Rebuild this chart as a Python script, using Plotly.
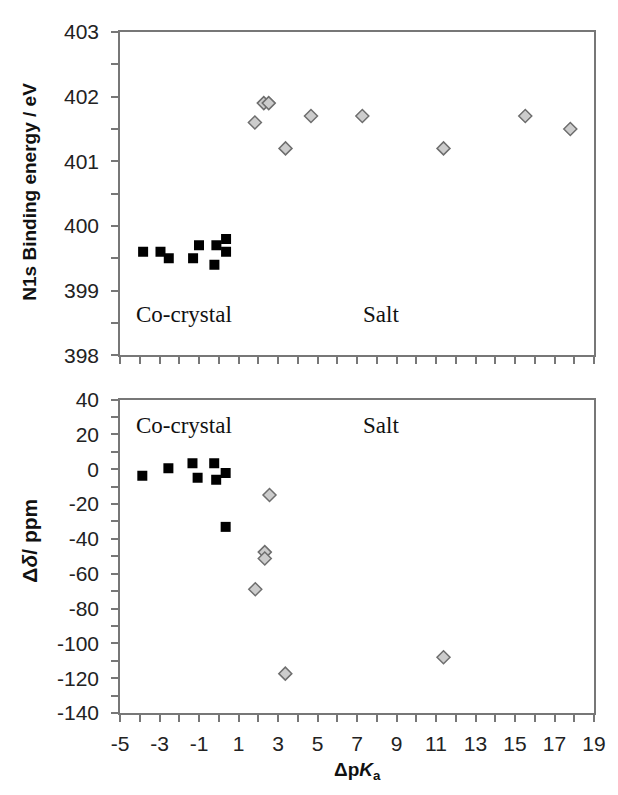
import plotly.graph_objects as go

# N1s binding energy (top panel)
cc_dpka_xps = [-3.83, -2.95, -2.53, -1.3, -1.0, -0.22, -0.12, 0.37, 0.37]
cc_be = [399.6, 399.6, 399.5, 399.5, 399.7, 399.4, 399.7, 399.8, 399.6]
salt_dpka_xps = [1.83, 2.28, 2.53, 3.38, 4.67, 7.27, 11.38, 15.52, 17.8]
salt_be = [401.6, 401.9, 401.9, 401.2, 401.7, 401.7, 401.2, 401.7, 401.5]

# 15N chemical shift change (bottom panel)
cc_dpka_nmr = [-3.87, -2.55, -1.33, -1.07, -0.23, -0.13, 0.35, 0.35]
cc_shift = [-3.7, 0.6, 3.4, -4.9, 3.4, -6.0, -2.2, -33.1]
salt_dpka_nmr = [2.57, 2.33, 2.33, 1.85, 3.37, 11.38]
salt_shift = [-14.8, -47.6, -51.3, -68.9, -117.4, -108.0]

# tick labels (plain hyphen as in the original)
x_ticks = [-5, -3, -1, 1, 3, 5, 7, 9, 11, 13, 15, 17, 19]
x_ticktext = ['-5', '-3', '-1', '1', '3', '5', '7', '9', '11', '13', '15', '17', '19']
be_ticks = [398, 399, 400, 401, 402, 403]
shift_ticks = [-140, -120, -100, -80, -60, -40, -20, 0, 20, 40]
shift_ticktext = ['-140', '-120', '-100', '-80', '-60', '-40', '-20', '0', '20', '40']

axis_col = '#777777'
tick_font = dict(family='Liberation Sans, Arial', size=21, color='#222222')
label_font = dict(family='Liberation Serif, Times New Roman', size=23, color='#111111')

square = dict(symbol='square', size=10, color='black', line=dict(width=0))
diamond = dict(symbol='diamond', size=10, color='#cccccc', line=dict(color='#6e6e6e', width=1.5))

fig = go.Figure()

fig.add_trace(go.Scatter(x=cc_dpka_xps, y=cc_be, mode='markers', marker=square,
                         xaxis='x', yaxis='y'))
fig.add_trace(go.Scatter(x=salt_dpka_xps, y=salt_be, mode='markers', marker=diamond,
                         xaxis='x', yaxis='y'))
fig.add_trace(go.Scatter(x=cc_dpka_nmr, y=cc_shift, mode='markers', marker=square,
                         xaxis='x2', yaxis='y2'))
fig.add_trace(go.Scatter(x=salt_dpka_nmr, y=salt_shift, mode='markers', marker=diamond,
                         xaxis='x2', yaxis='y2'))

common = dict(showgrid=False, zeroline=False, showline=True, linecolor=axis_col, linewidth=1.5,
              mirror=True, ticks='outside', ticklen=7, tickwidth=1.5, tickcolor=axis_col,
              tickfont=tick_font, ticklabeloverflow='allow')


def minor(step):
    return dict(dtick=step, ticks='outside', ticklen=7, tickwidth=1.5,
                tickcolor=axis_col, showgrid=False)


xaxis_cfg = dict(common, range=[-5, 19], tickmode='array', tickvals=x_ticks,
                 ticktext=x_ticktext, minor=dict(minor(1), tick0=-5))

# page body has an 8px margin, so the figure is a bit smaller than the window
fig.update_layout(
    width=610, height=787,
    margin=dict(l=112, r=16, t=14, b=82),
    paper_bgcolor='white', plot_bgcolor='white',
    showlegend=False,
    xaxis=dict(xaxis_cfg, anchor='y', showticklabels=False),
    xaxis2=dict(xaxis_cfg, anchor='y2', ticklabelstandoff=4),
    yaxis=dict(common, domain=[0.5253, 1], range=[398, 403], tickmode='array',
               tickvals=be_ticks, anchor='x', ticklabelstandoff=8, minor=minor(0.5)),
    yaxis2=dict(common, domain=[0, 0.4602], range=[-140, 40], tickmode='array',
                tickvals=shift_ticks, ticktext=shift_ticktext, anchor='x2',
                ticklabelstandoff=8, minor=minor(10)),
)

fig.add_annotation(text='<b>N1s Binding energy / eV</b>', xref='paper', yref='y',
                   x=0, y=400.53, xshift=-90, xanchor='center', yanchor='middle',
                   textangle=-90, showarrow=False,
                   font=dict(family='Liberation Sans, Arial', size=19, color='#111111'))
fig.add_annotation(text='<b>Δ<i>δ</i>/ ppm</b>', xref='paper', yref='y2',
                   x=0, y=-41, xshift=-90, xanchor='center', yanchor='middle',
                   textangle=-90, showarrow=False,
                   font=dict(family='Liberation Sans, Arial', size=21, color='#111111'))
fig.add_annotation(text='<b>Δp<i>K</i><sub>a</sub></b>', xref='paper', yref='paper',
                   x=0.5, y=0, xanchor='center', yanchor='middle', yshift=-58,
                   showarrow=False,
                   font=dict(family='Liberation Sans, Arial', size=19, color='#111111'))

# region labels
fig.add_annotation(text='Co-crystal', xref='x', yref='y', x=-4.3, y=398.63,
                   xanchor='left', showarrow=False, font=label_font)
fig.add_annotation(text='Salt', xref='x', yref='y', x=7.2, y=398.63,
                   xanchor='left', showarrow=False, font=label_font)
fig.add_annotation(text='Co-crystal', xref='x2', yref='y2', x=-4.3, y=25.3,
                   xanchor='left', showarrow=False, font=label_font)
fig.add_annotation(text='Salt', xref='x2', yref='y2', x=7.2, y=25.3,
                   xanchor='left', showarrow=False, font=label_font)

fig.write_html("out.html")
